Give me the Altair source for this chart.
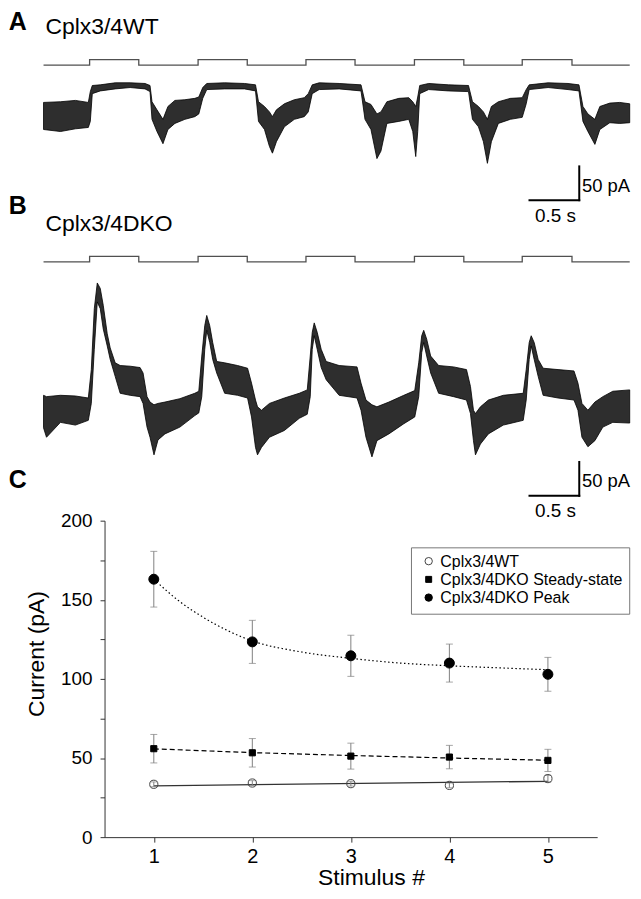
import altair as alt
import pandas as pd

FONT = "Liberation Sans"

# ---------------- stimulus command (0 = off, 1 = on), time in s ----------------
stim_t = [0.0, 0.463, 0.957, 1.553, 2.047, 2.637, 3.130, 3.727, 4.223, 4.810, 5.310, 5.890]
stim_on = [0, 1, 0, 1, 0, 1, 0, 1, 0, 1, 0, 0]

# ---------------- trace A (Cplx3/4WT): envelope of the noisy current, pA ----------------
a_t = [0.00, 0.17, 0.32, 0.45, 0.47, 0.49, 0.57, 0.72, 0.87, 1.02, 1.07, 1.09, 1.14, 1.20, 1.25,
       1.32, 1.42, 1.52, 1.56, 1.60, 1.64, 1.82, 2.02, 2.13, 2.16, 2.22, 2.27, 2.30, 2.34, 2.42,
       2.52, 2.62, 2.66, 2.70, 2.77, 2.97, 3.19, 3.23, 3.29, 3.35, 3.39, 3.45, 3.57, 3.67, 3.71,
       3.74, 3.76, 3.78, 3.87, 4.07, 4.27, 4.31, 4.37, 4.42, 4.46, 4.50, 4.57, 4.69, 4.81, 4.85,
       4.88, 5.07, 5.27, 5.38, 5.42, 5.47, 5.54, 5.59, 5.69, 5.79, 5.89]
a_hi = [18, 19, 21, 18, 34, 43, 44, 47, 47, 46, 43, 19, 7, -7, 12,
        21, 22, 24, 26, 40, 46, 47, 46, 44, 19, 12, 4, -3, 7, 16,
        22, 25, 31, 44, 47, 46, 44, 19, 15, 1, 4, 19, 24, 25, 19,
        12, 26, 43, 46, 44, 43, 19, 12, 4, -7, 12, 19, 24, 25, 37,
        44, 47, 46, 44, 12, 1, -7, 12, 17, 18, 16]
a_lo = [-22, -25, -21, -19, -10, 31, 35, 38, 40, 38, 34, -7, -25, -43, -22,
        -13, -7, -3, 1, 24, 37, 38, 38, 35, -10, -22, -47, -57, -40, -18,
        -7, -3, 4, 31, 37, 38, 35, -7, -22, -65, -54, -13, -10, -7, -25,
        -62, -25, 31, 37, 35, 34, -7, -18, -40, -72, -40, -13, -7, -4, 16,
        37, 40, 37, 35, -10, -25, -44, -22, -12, -13, -12]

# ---------------- trace B (Cplx3/4DKO): envelope of the noisy current, pA ----------------
b_t = [0.00, 0.03, 0.17, 0.32, 0.45, 0.48, 0.51, 0.54, 0.57, 0.60, 0.64, 0.67, 0.72, 0.77, 0.87,
       0.97, 1.00, 1.04, 1.07, 1.11, 1.15, 1.22, 1.37, 1.52, 1.56, 1.59, 1.62, 1.64, 1.67, 1.70,
       1.74, 1.82, 1.95, 2.05, 2.09, 2.13, 2.15, 2.19, 2.27, 2.42, 2.57, 2.65, 2.68, 2.70, 2.72,
       2.75, 2.79, 2.84, 2.97, 3.15, 3.19, 3.24, 3.30, 3.35, 3.47, 3.62, 3.73, 3.77, 3.80, 3.82,
       3.85, 3.89, 3.97, 4.12, 4.25, 4.29, 4.32, 4.34, 4.39, 4.47, 4.62, 4.82, 4.85, 4.88, 4.90,
       4.93, 4.97, 5.02, 5.17, 5.33, 5.37, 5.41, 5.47, 5.54, 5.62, 5.72, 5.89]
b_hi = [22, 20, 22, 21, 18, 60, 150, 188, 180, 155, 113, 92, 70, 66, 65,
        63, 55, 20, 12, 8, 10, 12, 17, 25, 28, 80, 125, 140, 125, 100,
        72, 70, 66, 62, 40, 15, 5, 0, 10, 18, 25, 30, 80, 115, 129,
        115, 90, 72, 66, 64, 40, 15, 8, 5, 12, 22, 29, 70, 110, 118,
        105, 80, 66, 64, 60, 35, 0, -5, 5, 15, 22, 25, 60, 100, 110,
        100, 75, 62, 60, 58, 40, 10, 0, 12, 20, 28, 30]
b_lo = [-26, -40, -18, -22, -15, 10, 90, 160, 150, 120, 95, 75, 50, 25, 22,
        20, 10, -25, -40, -66, -44, -35, -25, -8, -4, 20, 90, 118, 100, 75,
        55, 25, 22, 18, -10, -55, -66, -55, -40, -30, -12, -6, 20, 90, 110,
        90, 63, 45, 22, 18, 0, -40, -69, -45, -35, -20, -10, 20, 85, 100,
        80, 55, 25, 20, 15, -5, -45, -66, -50, -35, -22, -15, 15, 75, 95,
        75, 50, 22, 18, 15, 0, -40, -54, -45, -25, -18, -19]

# ---------------- scale bar (0.5 s, 50 pA) ----------------
bar_t_end = 5.383
bar_s = 0.5
bar_v0 = -126.5
bar_pa = 50

# ---------------- panel C ----------------
stim_no = [1, 2, 3, 4, 5]
series_names = ["Cplx3/4WT", "Cplx3/4DKO Steady-state", "Cplx3/4DKO Peak"]
series_shape = ["circle", "square", "circle"]
series_fill = ["transparent", "black", "black"]
series_stroke = ["#444444", "black", "black"]
series_size = [68, 38, 100]
wt_mean = [33.4, 34.2, 33.8, 32.7, 37.0]
wt_sem = [1.5, 1.5, 1.5, 1.5, 2.0]
ss_mean = [55.9, 53.3, 51.2, 50.6, 48.5]
ss_sem = [9.0, 9.0, 8.2, 7.4, 7.0]
pk_mean = [163.0, 123.4, 114.6, 110.0, 102.9]
pk_sem = [17.6, 13.6, 13.0, 12.0, 10.7]

wt_fit_x = [1, 5]
wt_fit_y = [32.4, 35.3]
ss_fit_x = [1, 2, 3, 4, 5]
ss_fit_y = [55.8, 53.4, 51.6, 50.0, 48.6]
pk_fit_x = [1, 1.25, 1.5, 1.75, 2, 2.5, 3, 3.5, 4, 4.5, 5]
pk_fit_y = [163, 149.5, 139, 130.5, 124, 117, 113, 110, 108.3, 107, 105.8]

# ---------------- layout ----------------
W = 495
HA, HB, HC = 184, 329, 318
T_DOM = [0.613, 5.563]
PX_PA = 0.68
PX_STIM = 5.6
LETTER_X = -96.3


def dom(zero_px, h, px):
    return [-(h - zero_px) / px, zero_px / px]


def trace_panel(t, hi, lo, h, zero_pa_px, zero_stim_px, letter, letter_y, title, title_y):
    xs = alt.Scale(domain=T_DOM, nice=False, zero=False)
    pa_scale = alt.Scale(domain=dom(zero_pa_px, h, PX_PA), nice=False, zero=False)
    stim_scale = alt.Scale(domain=dom(zero_stim_px, h, PX_STIM), nice=False, zero=False)

    stim_df = pd.DataFrame({"t": stim_t, "on": stim_on})
    trace_df = pd.DataFrame({"t": t, "hi": hi, "lo": lo})
    bar_df = pd.DataFrame({
        "t": [bar_t_end - bar_s, bar_t_end],
        "t2": [bar_t_end, bar_t_end],
        "v": [bar_v0, bar_v0],
        "v2": [bar_v0, bar_v0 + bar_pa],
    })
    pa_lab = pd.DataFrame({"t": [5.41], "v": [-114], "label": ["50 pA"]})
    s_lab = pd.DataFrame({"t": [bar_t_end - bar_s / 2 + 0.01], "v": [-158], "label": ["0.5 s"]})
    let_df = pd.DataFrame({"label": [letter]})
    tit_df = pd.DataFrame({"label": [title]})

    stim = alt.Chart(stim_df).mark_line(interpolate="step-after", color="#505050", strokeWidth=1.3).encode(
        x=alt.X("t:Q", scale=xs, axis=None),
        y=alt.Y("on:Q", scale=stim_scale, axis=None),
    )
    band = alt.Chart(trace_df).mark_area(color="#111111", fillOpacity=0.88, stroke="black",
                                         strokeWidth=0.8, strokeOpacity=1).encode(
        x=alt.X("t:Q", scale=xs, axis=None),
        y=alt.Y("hi:Q", scale=pa_scale, axis=None),
        y2="lo:Q",
    )
    bar = alt.Chart(bar_df).mark_rule(color="black", strokeWidth=2, strokeCap="square").encode(
        x=alt.X("t:Q", scale=xs, axis=None), x2="t2:Q",
        y=alt.Y("v:Q", scale=pa_scale, axis=None), y2="v2:Q",
    )
    pa_text = alt.Chart(pa_lab).mark_text(align="left", baseline="alphabetic", fontSize=18.5, font=FONT,
                                          color="black").encode(
        x=alt.X("t:Q", scale=xs, axis=None),
        y=alt.Y("v:Q", scale=pa_scale, axis=None),
        text="label:N",
    )
    s_text = alt.Chart(s_lab).mark_text(align="center", baseline="alphabetic", fontSize=19, font=FONT,
                                        color="black").encode(
        x=alt.X("t:Q", scale=xs, axis=None),
        y=alt.Y("v:Q", scale=pa_scale, axis=None),
        text="label:N",
    )
    let = alt.Chart(let_df).mark_text(align="left", baseline="top", fontSize=25, fontWeight="bold",
                                      font=FONT, color="black").encode(
        x=alt.value(LETTER_X), y=alt.value(letter_y), text="label:N")
    tit = alt.Chart(tit_df).mark_text(align="left", baseline="alphabetic", fontSize=23,
                                      font=FONT, color="black").encode(
        x=alt.value(-59.3), y=alt.value(title_y), text="label:N")

    return alt.layer(stim, band, bar, pa_text, s_text, let, tit).resolve_scale(
        y="independent").properties(width=W, height=h)


panel_a = trace_panel(a_t, a_hi, a_lo, HA, 105, 55.3, "A", 0, "Cplx3/4WT", 24)
panel_b = trace_panel(b_t, b_hi, b_lo, HB, 218, 69, "B", 1, "Cplx3/4DKO", 38)

# ---------------- panel C ----------------
xC_scale = alt.Scale(domain=[0.5, 5.5], nice=False, zero=False)
yC_scale = alt.Scale(domain=[0, 200], nice=False, zero=True)
xAX = alt.Axis(values=stim_no, title="Stimulus #", grid=False, format="d",
               domainColor="#333333", tickColor="#333333", tickSize=5, labelPadding=4,
               labelFont=FONT, labelFontSize=20, labelColor="black", labelFlush=False,
               titleFont=FONT, titleFontSize=23, titleFontWeight="normal", titleColor="black",
               titleX=267.7, titleY=48, titleBaseline="alphabetic", titleAlign="center")
yAX = alt.Axis(values=list(range(0, 201, 25)), labelExpr="datum.value % 50 == 0 ? datum.label : ''",
               title="Current (pA)", grid=False, domainColor="#333333", tickColor="#333333",
               tickSize=4.5, labelPadding=8, labelFont=FONT, labelFontSize=19, labelColor="black",
               labelFlush=False, labelOverlap=False,
               titleFont=FONT, titleFontSize=23, titleFontWeight="normal", titleColor="black",
               titleAngle=270, titleX=-68.3, titleY=133.5, titleAlign="center", titleBaseline="middle")


def xe(field="stim"):
    return alt.X(f"{field}:Q", scale=xC_scale, axis=xAX)


def ye(field="val"):
    return alt.Y(f"{field}:Q", scale=yC_scale, axis=yAX)


wt_line = alt.Chart(pd.DataFrame({"stim": wt_fit_x, "val": wt_fit_y})).mark_line(
    color="#333333", strokeWidth=1.3).encode(x=xe(), y=ye())
ss_line = alt.Chart(pd.DataFrame({"stim": ss_fit_x, "val": ss_fit_y})).mark_line(
    color="black", strokeWidth=1.2, strokeDash=[5, 3]).encode(x=xe(), y=ye())
pk_line = alt.Chart(pd.DataFrame({"stim": pk_fit_x, "val": pk_fit_y})).mark_line(
    color="black", strokeWidth=1.2, strokeDash=[1.5, 2.5], interpolate="monotone").encode(x=xe(), y=ye())

series_layers = []
for name, m, e in zip(series_names, [wt_mean, ss_mean, pk_mean], [wt_sem, ss_sem, pk_sem]):
    df = pd.DataFrame({"stim": stim_no, "val": m,
                       "lo": [a - b for a, b in zip(m, e)], "hi": [a + b for a, b in zip(m, e)]})
    base = alt.Chart(df)
    series_layers.append(base.mark_rule(color="#808080", strokeWidth=1).encode(
        x=xe(), y=ye("lo"), y2="hi:Q"))
    series_layers.append(base.mark_tick(color="#808080", orient="horizontal", size=7, thickness=1).encode(
        x=xe(), y=ye("lo")))
    series_layers.append(base.mark_tick(color="#808080", orient="horizontal", size=7, thickness=1).encode(
        x=xe(), y=ye("hi")))
point_layers = []
for name, m, shp, fl, st, sz in zip(series_names, [wt_mean, ss_mean, pk_mean],
                                     series_shape, series_fill, series_stroke, series_size):
    df = pd.DataFrame({"stim": stim_no, "val": m})
    point_layers.append(alt.Chart(df).mark_point(shape=shp, fill=fl, stroke=st, size=sz, strokeWidth=1,
                                                 opacity=1).encode(x=xe(), y=ye()))

# ---- legend box (drawn as marks, placed in the plot's upper right) ----
LEG_X0, LEG_X1, LEG_Y0, LEG_Y1 = 308.4, 527.7, 27.3, 94.0
LEG_SYM_X, LEG_TXT_X = 325.7, 337.4
LEG_ROWS = [40.7, 59.0, 77.3]
leg_layers = [
    alt.Chart(pd.DataFrame({"k": [0]})).mark_rect(fill="white", stroke="#777777", strokeWidth=1).encode(
        x=alt.value(LEG_X0), x2=alt.value(LEG_X1), y=alt.value(LEG_Y0), y2=alt.value(LEG_Y1))
]
leg_sizes = [55, 36, 55]
for name, shp, fl, st, sz, ry in zip(series_names, series_shape, series_fill, series_stroke, leg_sizes, LEG_ROWS):
    d = pd.DataFrame({"label": [name]})
    leg_layers.append(alt.Chart(d).mark_point(shape=shp, fill=fl, stroke=st, size=sz, strokeWidth=1,
                                              opacity=1).encode(x=alt.value(LEG_SYM_X), y=alt.value(ry)))
    leg_layers.append(alt.Chart(d).mark_text(align="left", baseline="middle", font=FONT,
                                             color="black").encode(
        x=alt.value(LEG_TXT_X), y=alt.value(ry + 0.5), text="label:N", size=alt.value(16)))

c_let = alt.Chart(pd.DataFrame({"label": ["C"]})).mark_text(
    align="left", baseline="top", fontSize=25, fontWeight="bold", font=FONT, color="black").encode(
    x=alt.value(LETTER_X), y=alt.value(-53), text="label:N")

panel_c = alt.layer(wt_line, ss_line, pk_line, *series_layers, *point_layers, *leg_layers, c_let).properties(
    width=W, height=HC)

chart = alt.vconcat(panel_a, panel_b, panel_c, spacing=0, bounds="flush").properties(
    padding=0).configure(font=FONT).configure_view(stroke="transparent", strokeWidth=0)

chart.save("out.html", embed_options={"renderer": "svg", "actions": False})
